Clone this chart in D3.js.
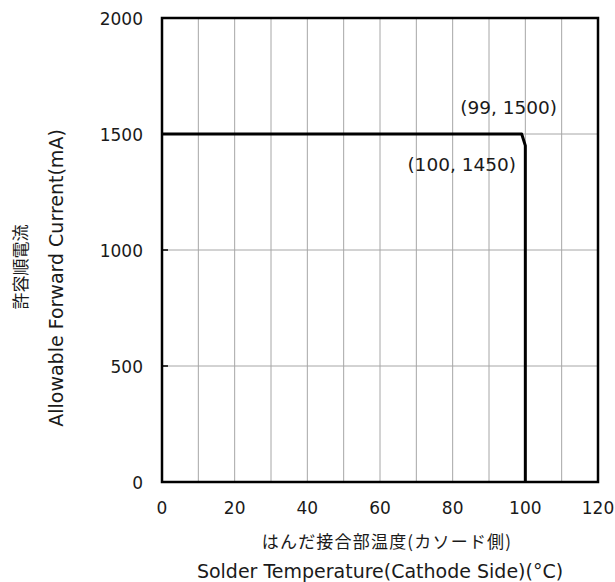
<!DOCTYPE html>
<html>
<head>
<meta charset="utf-8">
<script src="https://cdn.jsdelivr.net/npm/d3@7"></script>
<style>
  body { margin: 0; background: #fff; }
  text { font-family: Verdana, "DejaVu Sans", sans-serif; fill: #1a1a1a; }
</style>
</head>
<body>
<svg id="chart" width="615" height="582"></svg>
<script>
// derating curve: solder temperature vs allowable forward current
var temps = [0, 99, 100, 100];
var currents = [1500, 1500, 1450, 0];

var xTicks = [0, 20, 40, 60, 80, 100, 120];
var yTicks = [0, 500, 1000, 1500, 2000];
var xGrid = [10, 20, 30, 40, 50, 60, 70, 80, 90, 100, 110];
var yGrid = [500, 1000, 1500];

var notes = [
    { label: "(99, 1500)", t: 99, i: 1500 },
    { label: "(100, 1450)", t: 100, i: 1450 }
];

var svg = d3.select('#chart');
var plotL = 162, plotR = 598, plotT = 18, plotB = 482;

var x = d3.scaleLinear().domain([0, 120]).range([plotL, plotR]);
var y = d3.scaleLinear().domain([0, 2000]).range([plotB, plotT]);

// grid
svg.append('g')
    .selectAll('line')
    .data(xGrid)
    .enter()
    .append('line')
    .attr('x1', function(d) { return x(d); })
    .attr('x2', function(d) { return x(d); })
    .attr('y1', plotT)
    .attr('y2', plotB)
    .attr('stroke', '#a6a6a6')
    .attr('stroke-width', 1);

svg.append('g')
    .selectAll('line')
    .data(yGrid)
    .enter()
    .append('line')
    .attr('x1', plotL)
    .attr('x2', plotR)
    .attr('y1', function(d) { return y(d); })
    .attr('y2', function(d) { return y(d); })
    .attr('stroke', '#a6a6a6')
    .attr('stroke-width', 1);

// small inward ticks on left axis
svg.append('g')
    .selectAll('line')
    .data(yGrid)
    .enter()
    .append('line')
    .attr('x1', plotL)
    .attr('x2', plotL + 6)
    .attr('y1', function(d) { return y(d); })
    .attr('y2', function(d) { return y(d); })
    .attr('stroke', '#000')
    .attr('stroke-width', 1.5);

// frame
svg.append('rect')
    .attr('x', plotL)
    .attr('y', plotT)
    .attr('width', plotR - plotL)
    .attr('height', plotB - plotT)
    .attr('fill', 'none')
    .attr('stroke', '#000')
    .attr('stroke-width', 2.5);

// curve
var line = d3.line()
    .x(function(d, i) { return x(temps[i]); })
    .y(function(d, i) { return y(currents[i]); });

svg.append('path')
    .attr('d', line(temps))
    .attr('fill', 'none')
    .attr('stroke', '#000')
    .attr('stroke-width', 3)
    .attr('stroke-linejoin', 'round');

// tick labels
svg.append('g')
    .selectAll('text')
    .data(xTicks)
    .enter()
    .append('text')
    .attr('x', function(d) { return x(d); })
    .attr('y', 514)
    .attr('text-anchor', 'middle')
    .attr('font-size', 17)
    .text(function(d) { return d; });

svg.append('g')
    .selectAll('text')
    .data(yTicks)
    .enter()
    .append('text')
    .attr('x', 143)
    .attr('y', function(d) { return y(d) + 7; })
    .attr('text-anchor', 'end')
    .attr('font-size', 17)
    .text(function(d) { return d; });

// annotations
svg.append('text')
    .attr('x', 557)
    .attr('y', 114)
    .attr('text-anchor', 'end')
    .attr('font-size', 18.5)
    .text(notes[0].label);

svg.append('text')
    .attr('x', 516)
    .attr('y', 171)
    .attr('text-anchor', 'end')
    .attr('font-size', 18.5)
    .text(notes[1].label);

// axis titles
svg.append('text')
    .attr('x', 387)
    .attr('y', 548)
    .attr('text-anchor', 'middle')
    .attr('font-size', 17)
    .attr('letter-spacing', 1.2)
    .style('font-family', '"Noto Sans CJK JP", sans-serif')
    .text('はんだ接合部温度(カソード側)');

svg.append('text')
    .attr('x', 380)
    .attr('y', 578)
    .attr('text-anchor', 'middle')
    .attr('font-size', 19)
    .text('Solder Temperature(Cathode Side)(°C)');

svg.append('text')
    .attr('transform', 'translate(27,267) rotate(-90)')
    .attr('text-anchor', 'middle')
    .attr('font-size', 17)
    .style('font-family', '"Noto Sans CJK JP", sans-serif')
    .text('許容順電流');

svg.append('text')
    .attr('transform', 'translate(63,278) rotate(-90)')
    .attr('text-anchor', 'middle')
    .attr('font-size', 19)
    .text('Allowable Forward Current(mA)');
</script>
</body>
</html>
